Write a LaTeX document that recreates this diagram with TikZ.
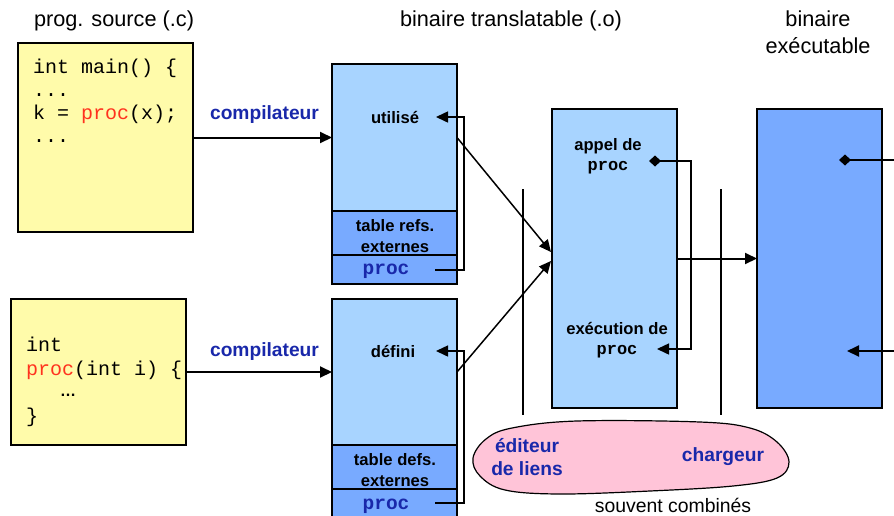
\documentclass[tikz,border=0pt]{standalone}
\usepackage{fontspec}
\setmainfont{Liberation Sans}
\setmonofont{Liberation Mono}
\usetikzlibrary{arrows.meta}
\definecolor{srcyellow}{RGB}{255,251,170}
\definecolor{objblue}{RGB}{168,212,255}
\definecolor{tabblue}{RGB}{120,170,255}
\definecolor{linkpink}{RGB}{255,196,216}
\definecolor{labblue}{RGB}{25,40,170}
\definecolor{codered}{RGB}{255,50,30}
\tikzset{
  box/.style={draw=black, line width=1.5pt, inner sep=0pt, outer sep=0pt, anchor=north west},
  arr/.style={line width=2pt, -{Triangle[length=12pt,width=11pt]}},
  thinarr/.style={line width=1.5pt, -{Triangle[length=12pt,width=11pt]}},
  dia/.style={line width=2pt, {Diamond[length=12pt,width=11pt]}-},
  diaarr/.style={line width=1.5pt, {Diamond[length=12pt,width=11pt]}-{Triangle[length=12pt,width=11pt]}},
  sep/.style={line width=2pt},
  txt/.style={inner sep=0pt, outer sep=0pt},
  title/.style={txt, font=\fontsize{21.7}{26}\selectfont},
  comp/.style={txt, text=labblue, font=\fontsize{19.2}{23}\selectfont\bfseries},
  inlab/.style={txt, align=center, font=\fontsize{16.6}{20.5}\selectfont\bfseries},
  code/.style={txt, anchor=base west, font=\fontsize{20}{24}\selectfont\ttfamily},
  procb/.style={txt, text=labblue, font=\fontsize{19.5}{22}\selectfont\ttfamily\bfseries},
}
\begin{document}
\begin{tikzpicture}[x=1pt,y=-1pt]
\useasboundingbox (0,0) rectangle (894,515);
\clip (0,0) rectangle (894,515);
% titles
\node[title, anchor=base] (t1) at (114,26) {prog. source (.c)};
\node[title, anchor=base] (t2) at (511,26) {binaire translatable (.o)};
\node[title, anchor=base] (t3a) at (818,26) {binaire};
\node[title, anchor=base] (t3b) at (818,53) {exécutable};
% source boxes
\node[box, fill=srcyellow, minimum width=175pt, minimum height=189pt] (src1) at (18,43) {};
\node[code] (c11) at (33,73) {int main() \{};
\node[code] (c12) at (33,96.5) {...};
\node[code] (c13) at (33,119) {k = \textcolor{codered}{proc}(x);};
\node[code] (c14) at (33,142) {...};
\node[box, fill=srcyellow, minimum width=175pt, minimum height=146pt] (src2) at (11,299) {};
\node[code] (c21) at (26,351) {int};
\node[code] (c22) at (26,375.5) {\textcolor{codered}{proc}(int i) \{};
\node[txt, font=\fontsize{16}{18}\selectfont\bfseries] (c23) at (68,395) {…};
\node[code] (c24) at (26,422) {\}};
% object file 1
\node[box, fill=objblue, minimum width=125pt, minimum height=147pt] (obj1) at (332,64) {};
\node[box, fill=tabblue, minimum width=125pt, minimum height=44pt] (tab1) at (332,211) {};
\node[box, fill=tabblue, minimum width=125pt, minimum height=29pt] (pr1) at (332,255) {};
\node[inlab] (util) at (395,117) {utilisé};
\node[inlab] (tab1l) at (395,236) {table refs.\\externes};
\node[procb] (p1) at (386,271) {proc};
% object file 2
\node[box, fill=objblue, minimum width=125pt, minimum height=146pt] (obj2) at (332,299) {};
\node[box, fill=tabblue, minimum width=125pt, minimum height=44pt] (tab2) at (332,445) {};
\node[box, fill=tabblue, minimum width=125pt, minimum height=40pt] (pr2) at (332,489) {};
\node[inlab] (defi) at (393,351) {défini};
\node[inlab] (tab2l) at (395,470) {table defs.\\externes};
\node[procb] (p2) at (386,506) {proc};
% compiler arrows
\draw[arr] (src1.east) -- (obj1.west);
\draw[arr] (src2.east) -- (obj2.west);
\node[comp] (comp1) at (264.5,115) {compilateur};
\node[comp] (comp2) at (264.5,352) {compilateur};
% loops in object files
\coordinate (l1s) at (435,270);
\coordinate (l1e) at (436,117);
\draw[thinarr] (l1s) -- (464,270) |- (l1e);
\coordinate (l2s) at (435,503);
\coordinate (l2e) at (436,351);
\draw[thinarr] (l2s) -- (464,503) |- (l2e);
% linked binary
\node[box, fill=objblue, minimum width=125pt, minimum height=299pt] (bin) at (552,109) {};
\node[inlab] (appel) at (608,156) {appel de\\[-1pt]\fontsize{17}{20}\selectfont\ttfamily proc};
\node[inlab] (exec) at (617,340) {exécution de\\[-1pt]\fontsize{17}{20}\selectfont\ttfamily proc};
\coordinate (d1) at (649,161);
\coordinate (e1) at (657,349);
\draw[diaarr] (d1) -- (691,161) |- (e1);
% diagonal links
\coordinate (k1) at (551,252);
\coordinate (k2) at (551,261);
\draw[thinarr] (obj1.east) -- (k1);
\draw[thinarr] (obj2.east) -- (k2);
% separators
\coordinate (s1t) at (523,189);
\coordinate (s1b) at (523,415);
\coordinate (s2t) at (721,189);
\coordinate (s2b) at (721,415);
\draw[sep] (s1t) -- (s1b);
\draw[sep] (s2t) -- (s2b);
% executable
\node[box, fill=tabblue, minimum width=125pt, minimum height=299pt] (exe) at (757,109) {};
\draw[arr] (bin.east) -- (exe.west);
\coordinate (d2) at (839,160);
\coordinate (r2) at (896,160);
\draw[dia] (d2) -- (r2);
\coordinate (r3) at (896,351);
\coordinate (e3) at (847,351);
\draw[arr] (r3) -- (e3);
% pink blob
\draw[fill=linkpink, line width=1.2pt] plot[smooth cycle, tension=0.6] coordinates {
  (473,458) (486,439) (512,428) (577,421) (700,422) (750,428) (777,442) (789,462)
  (777,478) (733,486) (650,491) (560,494) (505,490) (480,476)};
\node[comp, align=center] (edit) at (527,457) {éditeur\\de liens};
\node[comp] (charg) at (723,457) {chargeur};
\node[txt, font=\fontsize{19.4}{23}\selectfont] (souv) at (673,505.5) {souvent combinés};
\end{tikzpicture}
\end{document}
